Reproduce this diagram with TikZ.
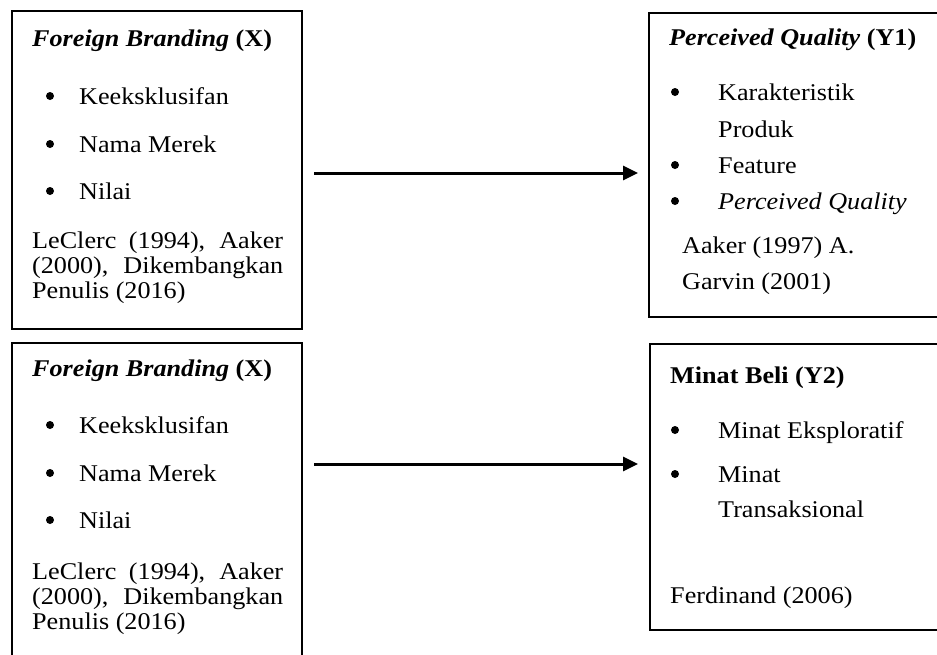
\documentclass[tikz,border=0pt]{standalone}
\usepackage{fontspec}
\setmainfont{Liberation Serif}[FakeStretch=1.09]
\usetikzlibrary{arrows.meta}

\begin{document}
\begin{tikzpicture}[x=1pt, y=-1pt,
    box/.style={draw, line width=1.5pt, anchor=north west, inner sep=0pt},
    txt/.style={anchor=base west, inner sep=0pt},
    dot/.style={circle, fill, minimum size=8pt, inner sep=0pt},
    arr/.style={line width=3pt, -{Triangle[length=15pt, width=14pt]}},
    every node/.append style={font=\fontsize{24}{25}\selectfont}]
  \useasboundingbox (0,0) rectangle (937,654);
  \clip (0,0) rectangle (937,654);

  % boxes
  \node[box, minimum width=290pt, minimum height=318pt] (x1) at (11,10) {};
  \node[box, minimum width=290pt, minimum height=330pt] (x2) at (11,342) {};
  \node[box, minimum width=300pt, minimum height=304pt] (y1) at (648,12) {};
  \node[box, minimum width=300pt, minimum height=286pt] (y2) at (649,343) {};

  % foreign branding (top)
  \node[txt] (t1) at (32,46) {\textbf{\textit{Foreign Branding} (X)}};
  \node[dot] (d11) at (50,96) {};
  \node[txt] (i11) at (79,104) {Keeksklusifan};
  \node[dot] (d12) at (50,144) {};
  \node[txt] (i12) at (79,152) {Nama Merek};
  \node[dot] (d13) at (50,191) {};
  \node[txt] (i13) at (79,199) {Nilai};
  \node[txt, text width=251pt, align=justify] (r1) at (32,248)
    {LeClerc (1994), Aaker (2000), Dikembangkan Penulis (2016)};

  % foreign branding (bottom)
  \node[txt] (t2) at (32,376) {\textbf{\textit{Foreign Branding} (X)}};
  \node[dot] (d21) at (50,425) {};
  \node[txt] (i21) at (79,433) {Keeksklusifan};
  \node[dot] (d22) at (50,473) {};
  \node[txt] (i22) at (79,481) {Nama Merek};
  \node[dot] (d23) at (50,520) {};
  \node[txt] (i23) at (79,528) {Nilai};
  \node[txt, text width=251pt, align=justify] (r2) at (32,579)
    {LeClerc (1994), Aaker (2000), Dikembangkan Penulis (2016)};

  % perceived quality
  \node[txt] (t3) at (669,45) {\textbf{\textit{Perceived Quality} (Y1)}};
  \node[dot] (d31) at (675,92) {};
  \node[txt] (i31) at (718,100) {Karakteristik};
  \node[txt] (i31b) at (718,137) {Produk};
  \node[dot] (d32) at (675,165) {};
  \node[txt] (i32) at (718,173) {Feature};
  \node[dot] (d33) at (675,201) {};
  \node[txt] (i33) at (718,209) {\textit{Perceived Quality}};
  \node[txt] (r3) at (682,253) {Aaker (1997) A.};
  \node[txt] (r3b) at (682,289) {Garvin (2001)};

  % minat beli
  \node[txt] (t4) at (670,383) {\textbf{Minat Beli (Y2)}};
  \node[dot] (d41) at (675,430) {};
  \node[txt] (i41) at (718,438) {Minat Eksploratif};
  \node[dot] (d42) at (675,474) {};
  \node[txt] (i42) at (718,482) {Minat};
  \node[txt] (i42b) at (718,517) {Transaksional};
  \node[txt] (r4) at (670,603) {Ferdinand (2006)};

  % arrows
  \coordinate (a1) at (314,173);
  \coordinate (a2) at (314,464);
  \draw[arr, shorten >=10pt] (a1) -- (a1 -| y1.west);
  \draw[arr, shorten >=11pt] (a2) -- (a2 -| y2.west);
\end{tikzpicture}
\end{document}
